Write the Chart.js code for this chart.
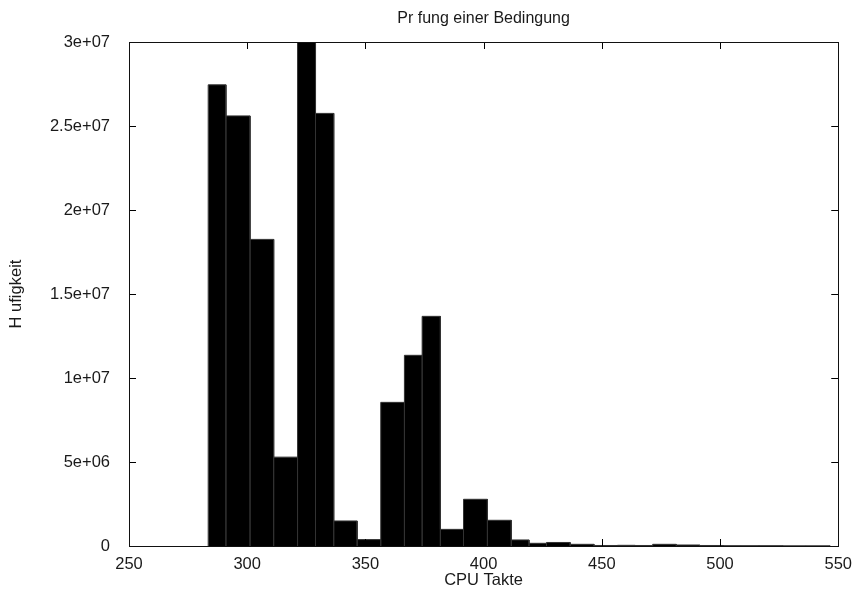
<!DOCTYPE html>
<html>
<head>
<meta charset="utf-8">
<script src="https://cdn.jsdelivr.net/npm/chart.js@4/dist/chart.umd.min.js"></script>
<style>
  html, body { margin: 0; padding: 0; background: #ffffff; }
  #wrap { width: 853px; height: 599px; position: relative; }
</style>
</head>
<body>
<div id="wrap"><canvas id="c"></canvas></div>
<script>
// ---- Data ----
const chartTitle = 'Pr fung einer Bedingung';
const xAxisTitle = 'CPU Takte';
const yAxisTitle = 'H ufigkeit';

// histogram bin edges (CPU Takte)
const binEdges = [283.5, 291.0, 301.2, 311.2, 321.3, 328.9, 336.6, 346.5, 356.5, 366.5,
                  374.0, 381.7, 391.5, 401.6, 411.7, 419.2, 426.6, 436.6, 446.7, 456.6,
                  464.1, 471.5, 481.5, 491.5, 501.5, 509.0, 516.5, 526.5, 536.5, 546.5];
// frequency of each bin (Häufigkeit)
const binCounts = [27450000, 25600000, 18250000, 5290000, 30300000, 25750000, 1490000, 380000,
                   8550000, 11350000, 13670000, 990000, 2780000, 1530000, 360000, 160000,
                   210000, 100000, 30000, 40000, 30000, 100000, 60000, 30000, 20000, 20000,
                   20000, 10000, 10000];

const xTickValues = [250, 300, 350, 400, 450, 500, 550];
const yTickValues = [0, 5000000, 10000000, 15000000, 20000000, 25000000, 30000000];
const yTickLabels = ['0', '5e+06', '1e+07', '1.5e+07', '2e+07', '2.5e+07', '3e+07'];

// ---- Build histogram outline points from the bins ----
const histPoints = [];
for (let i = 0; i < binCounts.length; i++) {
  histPoints.push({x: binEdges[i], y: 0});
  histPoints.push({x: binEdges[i], y: binCounts[i]});
  histPoints.push({x: binEdges[i + 1], y: binCounts[i]});
  histPoints.push({x: binEdges[i + 1], y: 0});
}

const FONT = "'Liberation Sans', Arial, Helvetica, sans-serif";

// frame + inward ticks on all four sides (gnuplot style)
const framePlugin = {
  id: 'frame',
  afterDatasetsDraw(chart) {
    const {ctx, chartArea: a, scales} = chart;
    const L = 7;
    ctx.save();
    ctx.strokeStyle = '#000000';
    ctx.lineWidth = 1;
    ctx.beginPath();
    const r = v => Math.round(v) + 0.5;
    scales.x.ticks.forEach(t => {
      const px = r(scales.x.getPixelForValue(t.value));
      ctx.moveTo(px, a.bottom); ctx.lineTo(px, a.bottom - L);
      ctx.moveTo(px, a.top); ctx.lineTo(px, a.top + L);
    });
    scales.y.ticks.forEach(t => {
      const py = r(scales.y.getPixelForValue(t.value));
      ctx.moveTo(a.left, py); ctx.lineTo(a.left + L, py);
      ctx.moveTo(a.right, py); ctx.lineTo(a.right - L, py);
    });
    ctx.stroke();
    ctx.strokeStyle = '#111111';
    ctx.strokeRect(r(a.left), r(a.top), Math.round(a.right - a.left), Math.round(a.bottom - a.top));
    ctx.restore();
  }
};

new Chart(document.getElementById('c'), {
  type: 'line',
  data: {
    datasets: [{
      label: 'Häufigkeit',
      data: histPoints,
      borderColor: '#333333',
      borderWidth: 1,
      backgroundColor: '#000000',
      fill: 'origin',
      pointRadius: 0,
      tension: 0
    }]
  },
  options: {
    responsive: true,
    maintainAspectRatio: false,
    animation: false,
    layout: { padding: { left: 0, right: 10, top: 0, bottom: 0 } },
    plugins: {
      legend: { display: false },
      tooltip: { enabled: false },
      title: { display: false }
    },
    scales: {
      // top axis only carries the chart title, centred over the plot area
      top: {
        type: 'linear',
        position: 'top',
        min: 250, max: 550,
        afterFit: s => { s.height = 42; },
        grid: { display: false },
        border: { display: false },
        ticks: { display: false },
        title: {
          display: true,
          text: chartTitle,
          color: '#1a1a1a',
          font: { family: FONT, size: 16 },
          padding: { top: 9, bottom: 0 }
        }
      },
      x: {
        type: 'linear',
        min: 250, max: 550,
        afterBuildTicks: s => { s.ticks = xTickValues.map(v => ({value: v})); },
        afterFit: s => { s.height = 53; },
        grid: { display: false },
        border: { display: false },
        ticks: {
          color: '#1a1a1a',
          font: { family: FONT, size: 16.5 },
          padding: 1,
          maxRotation: 0,
          autoSkip: false
        },
        title: {
          display: true,
          text: xAxisTitle,
          color: '#1a1a1a',
          font: { family: FONT, size: 16.5 },
          padding: { top: 0, bottom: 9 }
        }
      },
      y: {
        type: 'linear',
        min: 0, max: 30000000,
        afterBuildTicks: s => { s.ticks = yTickValues.map(v => ({value: v})); },
        afterFit: s => { s.width = 129; },
        grid: { display: false },
        border: { display: false },
        ticks: {
          color: '#1a1a1a',
          font: { family: FONT, size: 16.5 },
          padding: 11,
          autoSkip: false,
          callback: (v) => {
            const i = yTickValues.indexOf(v);
            return i >= 0 ? yTickLabels[i] : '';
          }
        },
        title: {
          display: true,
          text: yAxisTitle,
          color: '#1a1a1a',
          font: { family: FONT, size: 16.5 },
          padding: { top: 7, bottom: 0 }
        }
      }
    }
  },
  plugins: [framePlugin]
});
</script>
</body>
</html>
